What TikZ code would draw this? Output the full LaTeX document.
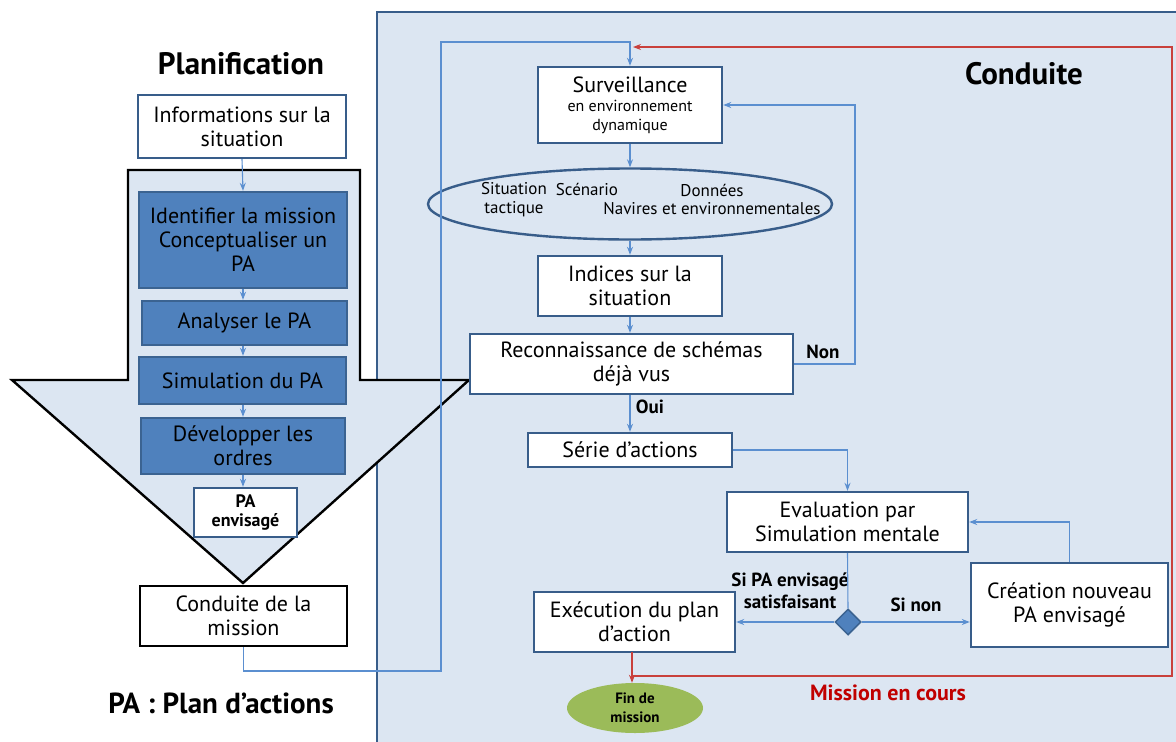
\documentclass[tikz,border=0pt]{standalone}
\usepackage{fontspec}
\setmainfont{PT Sans}
\usetikzlibrary{arrows.meta,shapes.geometric}
\definecolor{panel}{HTML}{DCE6F2}
\definecolor{frame}{HTML}{385D8A}
\definecolor{boxblue}{HTML}{4F81BD}
\definecolor{boxedge}{HTML}{3B6391}
\definecolor{wire}{HTML}{5B8FD0}
\definecolor{loopred}{HTML}{C9403C}
\definecolor{textred}{HTML}{C00000}
\definecolor{leaf}{HTML}{9BBB59}
\begin{document}
\begin{tikzpicture}[x=1pt,y=-1pt,
  txt/.style={font=\fontsize{22}{24}\selectfont},
  wbox/.style={draw=frame, line width=2.4pt, fill=white, align=center, inner sep=0pt, txt},
  bbox/.style={draw=boxedge, line width=2.4pt, fill=boxblue, align=center, inner sep=0pt, txt},
  kbox/.style={draw=black, line width=2.4pt, fill=white, align=center, inner sep=0pt, txt},
  title/.style={font=\fontsize{31}{34}\bfseries\selectfont},
  tag/.style={font=\fontsize{19}{22}\bfseries\selectfont, align=center},
  small/.style={font=\fontsize{17}{19}\selectfont, align=center},
  wire/.style={draw=wire, line width=1.1pt},
  link/.style={wire, -{Stealth[length=8pt,width=6pt]}},
  redlink/.style={draw=loopred, line width=1.1pt, -{Stealth[length=8pt,width=6pt]}}
]
\useasboundingbox (0,0) rectangle (1176,742);

% Conduite panel
\fill[panel] (377,12) rectangle (1180,746);
\draw[frame, line width=2.4pt] (377,746) -- (377,12) -- (1180,12);

% Planification funnel arrow
\draw[black, line width=2.4pt, fill=panel]
  (128,170) -- (360,170) -- (360,380) -- (469,380) -- (243,583)
  -- (12,380) -- (128,380) -- cycle;

% Titles
\node[title] (tplan) at (241,64) {Planification};
\node[title] (tcond) at (1024,74) {Conduite};
\node[title, font=\fontsize{29}{32}\bfseries\selectfont] (tpa) at (221,703) {PA : Plan d’actions};

% Planning chain
\node[wbox, minimum width=208pt, minimum height=63pt] (info) at (242,126.5) {Informations sur la\\situation};
\node[bbox, minimum width=208pt, minimum height=96pt] (ident) at (243,240) {Identifier la mission\\Conceptualiser un\\PA};
\node[bbox, minimum width=205pt, minimum height=44pt] (analy) at (244.5,323) {Analyser le PA};
\node[bbox, minimum width=207pt, minimum height=47pt] (simu) at (242.5,380.5) {Simulation du PA};
\node[bbox, minimum width=204pt, minimum height=56pt] (devel) at (243,446) {Développer les\\ordres};
\node[wbox, minimum width=103pt, minimum height=49pt, font=\fontsize{18}{19}\bfseries\selectfont] (paenv) at (245.5,512.5) {PA\\envisagé};
\node[kbox, minimum width=207pt, minimum height=60pt] (condm) at (243.5,616) {Conduite de la\\mission};

\draw[link] (info.south) -- (ident.north);
\draw[link] (ident.south) -- (ident.south |- analy.north);
\draw[link] (ident.south |- analy.south) -- (ident.south |- simu.north);
\draw[link] (ident.south |- simu.south) -- (ident.south |- devel.north);
\draw[link] (ident.south |- devel.south) -- (ident.south |- paenv.north);

% Conduite flow
\node[wbox, minimum width=184pt, minimum height=76pt, font=\fontsize{16}{19}\selectfont] (surv) at (630,105)
  {{\fontsize{22}{24}\selectfont Surveillance}\\en environnement\\dynamique};
\node[ellipse, draw=frame, line width=2.4pt, minimum width=404pt, minimum height=71pt] (cues) at (630,204) {};
\node[small] (tact) at (514,200) {Situation\\tactique};
\node[small] (scen) at (587,189) {Scénario};
\node[small] (donn) at (712,190) {Données};
\node[small] (navi) at (712,209) {Navires et environnementales};
\node[wbox, minimum width=184pt, minimum height=60pt] (indi) at (630,286) {Indices sur la\\situation};
\node[wbox, minimum width=323pt, minimum height=60pt] (reco) at (631.5,364) {Reconnaissance de schémas\\déjà vus};
\node[wbox, minimum width=204pt, minimum height=34pt] (serie) at (630,450) {Série d’actions};
\node[wbox, minimum width=241pt, minimum height=60pt] (eval) at (847.5,522) {Evaluation par\\Simulation mentale};
\node[diamond, draw=boxedge, line width=1.5pt, fill=boxblue, minimum width=26pt, minimum height=26pt, inner sep=0pt] (dec) at (848,622) {};
\node[wbox, minimum width=197pt, minimum height=84pt] (crea) at (1069.5,605) {Création nouveau\\PA envisagé};
\node[wbox, minimum width=201pt, minimum height=60pt] (exec) at (634.5,622) {Exécution du plan\\d’action};
\node[ellipse, fill=leaf, minimum width=136pt, minimum height=50pt, inner sep=0pt, font=\fontsize{15}{19}\bfseries\selectfont, align=center] (fin) at (635,708) {Fin de\\mission};

\node[tag] (lnon) at (823,352) {Non};
\node[tag] (loui) at (650,407) {Oui};
\node[tag] (lsat) at (790,591) {Si PA envisagé\\satisfaisant};
\node[tag] (lsin) at (916,605) {Si non};
\node[tag, text=textred, font=\fontsize{22}{24}\bfseries\selectfont] (lmis) at (888,693) {Mission en cours};

% Connectors
\draw[link] (condm.south) -- (243.5,671) -- (441,671) -- (441,42) -- (surv.north |- 0,42) -- (surv.north);
\draw[link] (surv.south) -- (cues.north);
\draw[link] (cues.south) -- (indi.north);
\draw[link] (indi.south) -- (indi.south |- reco.north);
\draw[link] (indi.south |- reco.south) -- (serie.north);
\draw[link] (reco.east) -- (855,364) -- (855,105) -- (surv.east);
\draw[link] (serie.east) -- (eval.north |- serie.east) -- (eval.north);
\draw[wire] (eval.south) -- (dec.north);
\draw[link] (dec.west) -- (exec.east |- dec.west);
\draw[link] (dec.east) -- (crea.west |- dec.east);
\draw[link] (crea.north) -- (crea.north |- eval.east) -- (eval.east);

% Mission loop
\coordinate (redjoin) at (632,676);
\coordinate (redtip) at (633,47);
\draw[redlink] (632,652) -- (fin.north -| 632,0);
\draw[redlink] (redjoin) -- (1172,676) -- (1172,47) -- (redtip);
\end{tikzpicture}
\end{document}
